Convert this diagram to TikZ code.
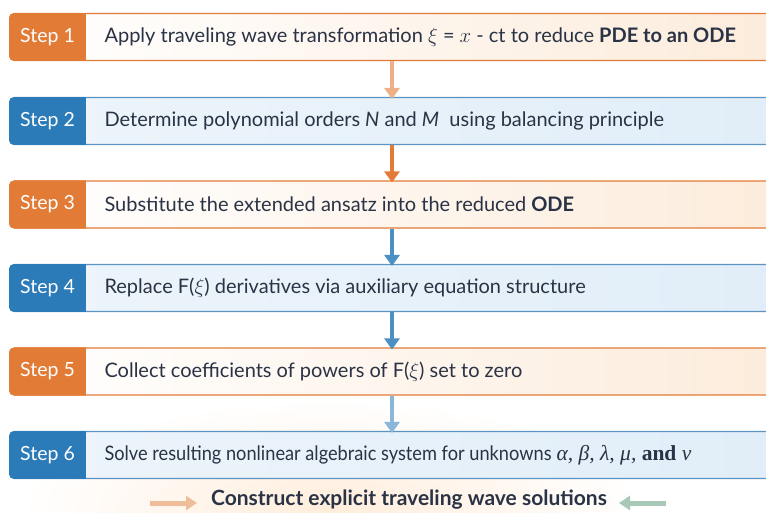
\documentclass[tikz,border=0pt]{standalone}
\usepackage{fontspec}
\usepackage{graphicx}
\setmainfont{Lato}
\newfontfamily\seriff{Liberation Serif}
\usetikzlibrary{arrows.meta,shadings}
\definecolor{orng}{HTML}{E27B36}
\definecolor{blu}{HTML}{2B7BB9}
\definecolor{bluline}{HTML}{5B93C2}
\definecolor{txt}{HTML}{2A3345}
\definecolor{creamR}{HTML}{FCEBDA}
\definecolor{bluL}{HTML}{EEF5FB}
\definecolor{bluR}{HTML}{E0EDF8}
\definecolor{greenarr}{HTML}{A9C9B8}
\tikzset{
  obody/.style={draw=orng, line width=1.1pt, rounded corners=5pt, left color=white, right color=creamR, minimum width=800pt, minimum height=47pt, anchor=west},
  bbody/.style={draw=bluline, line width=1.1pt, rounded corners=5pt, left color=bluL, right color=bluR, minimum width=800pt, minimum height=47pt, anchor=west},
  lab/.style={text=white, font=\fontsize{19.5}{22}\selectfont},
  desc/.style={text=txt, anchor=west, font=\fontsize{20}{22}\selectfont},
  arr/.style={line width=3.5pt, -{Triangle[width=15pt,length=11pt]}},
  botarr/.style={line width=5pt, -{Triangle[width=14pt,length=11pt]}}
}
\begin{document}
\begin{tikzpicture}[x=1pt,y=-1pt]
\useasboundingbox (0,0) rectangle (766,512);
\clip (0,0) rectangle (766,512);
% background glow
\shade[inner color=orange!14, outer color=white] (20,400) rectangle (640,620);
\coordinate (ax) at (392,0);
% steps
\newcommand{\stepbox}[5]{% #1 name, #2 y, #3 style, #4 color, #5 label
  \node[#3] (b#1) at (9,#2) {};
  \begin{scope}
    \clip[rounded corners=5pt] (b#1.north west) rectangle (b#1.south east);
    \fill[#4] (b#1.north west) rectangle ([xshift=77pt]b#1.south west);
  \end{scope}
  \node[lab] (s#1) at ([xshift=38.5pt]b#1.west) {#5};
}
\stepbox{1}{37}{obody}{orng}{Step 1}
\stepbox{2}{121}{bbody}{blu}{Step 2}
\stepbox{3}{204.5}{obody}{orng}{Step 3}
\stepbox{4}{288}{bbody}{blu}{Step 4}
\stepbox{5}{371.5}{obody}{orng}{Step 5}
\stepbox{6}{455}{bbody}{blu}{Step 6}
\node[desc] (t1) at (101,37) {Apply traveling wave transformation $\xi$ = $x$ - ct to reduce \textbf{PDE to an ODE}};
\node[desc] (t2) at (101,121) {Determine polynomial orders \textit{N} and \textit{M}\ \ using balancing principle};
\node[desc] (t3) at (101,204.5) {Substitute the extended ansatz into the reduced \textbf{ODE}};
\node[desc] (t4) at (101,288) {Replace F($\xi$) derivatives via auxiliary equation structure};
\node[desc] (t5) at (101,371.5) {Collect coefficients of powers of F($\xi$) set to zero};
\node[desc] (t6) at (101,455) {\scalebox{0.91}[1]{Solve resulting nonlinear algebraic system for unknowns} {\seriff\fontsize{21.5}{22}\selectfont\itshape α, β, λ, μ, \upshape\bfseries and \mdseries\itshape ν}};
% connectors
\draw[arr, draw=orng!60, fill=orng!60] (ax |- b1.south) -- ([yshift=-2pt]ax |- b2.north);
\draw[arr, draw=orng, fill=orng] (ax |- b2.south) -- ([yshift=-2pt]ax |- b3.north);
\draw[arr, draw=blu!85, fill=blu!85] (ax |- b3.south) -- ([yshift=-2pt]ax |- b4.north);
\draw[arr, draw=blu!85, fill=blu!85] (ax |- b4.south) -- ([yshift=-2pt]ax |- b5.north);
\draw[arr, draw=blu!55, fill=blu!55] (ax |- b5.south) -- ([yshift=-2pt]ax |- b6.north);
% bottom
\node[text=txt, font=\bfseries\fontsize{21}{22}\selectfont] (fin) at (409,500) {Construct explicit traveling wave solutions};
\coordinate (la) at (150,503);
\coordinate (le) at (197,503);
\coordinate (ra) at (666,503);
\coordinate (re) at (619,503);
\draw[botarr, draw=orng!50, fill=orng!50] (la) -- (le);
\draw[botarr, draw=greenarr, fill=greenarr] (ra) -- (re);
\end{tikzpicture}
\end{document}
